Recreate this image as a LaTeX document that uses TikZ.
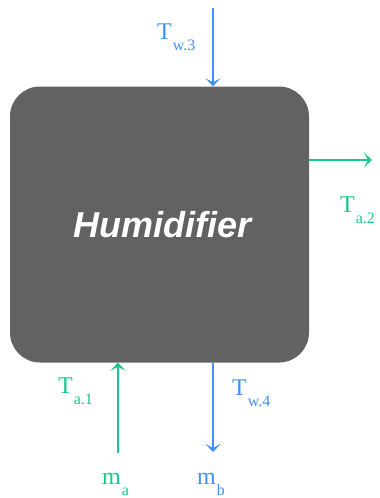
\documentclass[tikz,border=0pt]{standalone}
\usepackage{fontspec}
\setmainfont{Liberation Serif}
\newfontfamily\labelsans{Liberation Sans}
\usetikzlibrary{arrows.meta}

\definecolor{flowblue}{RGB}{62,145,250}
\definecolor{flowgreen}{RGB}{22,200,140}
\definecolor{boxgray}{RGB}{98,98,98}

% variable with a lowered subscript
\newcommand{\flowvar}[2]{{\fontsize{24}{24}\selectfont #1\kern1pt\raisebox{-11pt}{\fontsize{16}{16}\selectfont #2}}}

\tikzset{
  unitbox/.style={draw=none, fill=boxgray, rounded corners=30pt, minimum width=299pt, minimum height=276pt, inner sep=0pt},
  flowarrow/.style={line width=1.5pt, -{Stealth[length=8pt, width=15pt, inset=4pt]}},
  varlabel/.style={anchor=base west, inner sep=0pt}
}

\begin{document}
\begin{tikzpicture}[x=1pt, y=-1pt]
  \useasboundingbox (0,0) rectangle (380,498);

  % humidifier block
  \node[unitbox] (hum) at (159.5,224.5) {};
  \node[anchor=base, inner sep=0pt, text=white] (title) at (162.5,237)
    {\labelsans\bfseries\itshape\fontsize{36}{36}\selectfont Humidifier};

  % free ends of the streams
  \coordinate (w3) at (213,8);
  \coordinate (a2) at (372,160);
  \coordinate (a1) at (118,453);
  \coordinate (w4) at (213,452);

  % streams
  \draw[flowarrow, flowblue] (w3) -- (w3 |- hum.north);
  \draw[flowarrow, flowgreen] (hum.east |- a2) -- (a2);
  \draw[flowarrow, flowgreen] (a1) -- (a1 |- hum.south);
  \draw[flowarrow, flowblue] (w4 |- hum.south) -- (w4);

  % labels
  \node[varlabel, text=flowblue] (lw3) at (157,39) {\flowvar{T}{w.3}};
  \node[varlabel, text=flowgreen] (la2) at (340,212) {\flowvar{T}{a.2}};
  \node[varlabel, text=flowgreen] (la1) at (58,393) {\flowvar{T}{a.1}};
  \node[varlabel, text=flowblue] (lw4) at (232,395) {\flowvar{T}{w.4}};
  \node[varlabel, text=flowgreen] (lma) at (102,484) {\flowvar{m}{a}};
  \node[varlabel, text=flowblue] (lmb) at (197,484) {\flowvar{m}{b}};
\end{tikzpicture}
\end{document}
